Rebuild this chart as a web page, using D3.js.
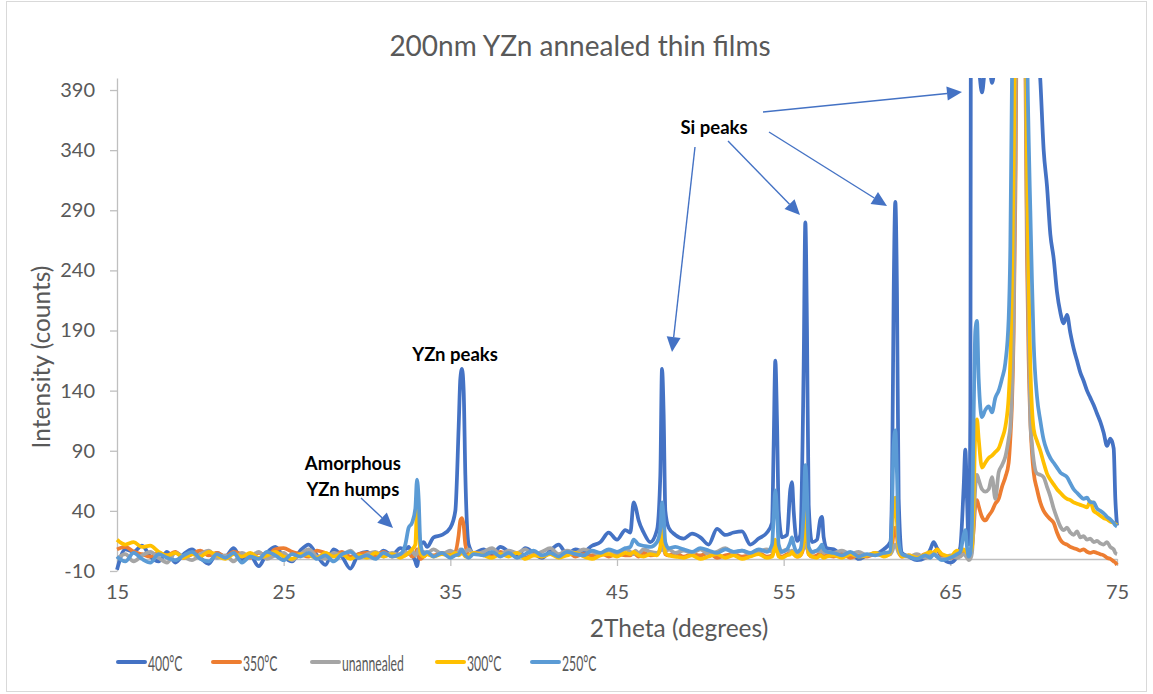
<!DOCTYPE html>
<html>
<head>
<meta charset="utf-8">
<script src="https://d3js.org/d3.v7.min.js"></script>
<style>
  body { margin: 0; background: #fff; }
  text { font-family: Lato, "Open Sans", sans-serif; }
</style>
</head>
<body>
<svg id="chart" width="1153" height="694"></svg>
<script>
// 2theta grid (denser around the peaks)
const twoTheta = [
  15, 15.5, 16, 16.5, 17, 17.5, 18, 18.5, 19, 19.5, 20, 20.5, 21, 21.5, 22, 22.5, 23, 23.5, 24, 24.5, 25, 25.5, 26, 26.5, 27, 27.5, 28, 28.5, 29, 29.5, 30, 30.5, 31, 31.5, 32,
  32.3, 32.5, 32.7, 32.9, 33.0, 33.1, 33.2, 33.4, 33.6,
  34.0, 34.5, 35.0, 35.3, 35.5, 35.6, 35.7, 35.8, 35.9, 36.1, 36.4,
  37, 37.5, 38, 38.5, 39, 39.5, 40, 40.5, 41, 41.5, 42, 42.5, 43, 43.5, 44, 44.5, 45, 45.5,
  45.8, 46.0, 46.1, 46.3, 46.6, 47.0, 47.4, 47.6, 47.7, 47.8, 47.9, 48.1, 48.5,
  49, 49.5, 50, 50.5, 51, 51.5, 52, 52.5, 53, 53.5, 54,
  54.3, 54.4, 54.5, 54.6, 54.7, 54.9, 55.2, 55.4, 55.5, 55.6, 55.8, 56.0, 56.2, 56.3, 56.4, 56.5, 56.7, 57.0, 57.2, 57.3, 57.4, 57.6,
  58, 58.5, 59, 59.5, 60, 60.5, 61,
  61.4, 61.5, 61.6, 61.7, 61.8, 61.9, 62.1,
  62.5, 63.0, 63.5, 63.8, 64.0, 64.2, 64.5, 65.0, 65.4,
  65.6, 65.8, 65.9, 66.0, 66.1, 66.2, 66.3, 66.4, 66.5, 66.6, 66.7, 66.9,
  67.1, 67.3, 67.5, 67.7, 67.9, 68.1, 68.3, 68.5, 68.6, 68.7, 68.8, 68.9, 69.0, 69.2, 69.4, 69.5, 69.6, 69.7, 69.8, 69.9, 70.0,
  70.2, 70.4, 70.6, 70.8, 71.0, 71.2, 71.4, 71.6, 71.8, 72.0, 72.2, 72.4, 72.6, 72.8, 73.0, 73.2, 73.4, 73.6, 73.8, 74.0, 74.2, 74.4, 74.6, 74.8, 74.9, 75.0
];

const counts400 = [
  -9, 8, 6, 11, 2, -2, 6, -3, 4, 8, 1, -4, 5, 2, 9, -1, 3, -6, 5, 10, 2, -2, 7, 12, 3, -5, 8, 2, -8, 4, 6, 1, 7, 3, 9,
  8, 10, 4, -2, -6, 2, 12, 14, 10,
  18, 20, 26, 40, 110, 150, 158, 140, 70, 12, 5,
  8, 3, 10, 6, 2, 9, 5, 1, 7, 12, 4, 8, 6, 11, 14, 22, 16, 24,
  22, 47, 44, 32, 22, 14, 24, 70, 158, 120, 40, 26, 20,
  17, 21, 18, 12, 25, 20, 22, 23, 12, 17, 22,
  30, 95, 165, 115, 40, 18, 20, 58, 64, 40, 15, 20, 160, 280, 190, 45, 14, 16, 33, 35, 18, 9,
  8, 4, 5, 0, 3, 4, 8,
  14, 60, 220, 297, 220, 50, 5,
  2, -1, 1, 8, 14, 9, 1, -3, 2,
  10, 60, 91, 50, 12, 120, 1500, 700, 440, 420, 410, 388,
  410, 415, 396, 412, 420, 430, 440, 460, 500, 600, 800, 1200, 2000, 3000, 2000, 1400, 1000, 800, 650, 550, 480,
  440, 398, 340, 310, 270, 250, 222, 205, 196, 203, 188, 175, 165, 155, 148, 140, 134, 128, 121, 114, 105, 94, 100, 92, 50, 28
];

const counts350 = [
  8, 10, 6, 4, 2, 5, 3, 6, 1, 4, 7, 3, 5, 2, 6, 4, 1, 5, 3, 8, 9, 6, 4, 2, 7, 5, 3, 6, 2, 4, 5, 3, 6, 2, 4,
  3, 5, 2, 4, 8, 3, 0, 2, 4,
  3, 5, 4, 6, 20, 32, 34, 28, 12, 3, 5,
  4, 2, 6, 3, 5, 1, 4, 2, 5, 3, 6, 2, 4, 3, 5, 2, 4, 3,
  3, 5, 4, 2, 5, 3, 4, 8, 14, 10, 4, 3, 5,
  2, 4, 3, 5, 1, 3, 4, 2, 3, 5, 2,
  3, 6, 12, 8, 3, 2, 4, 5, 6, 4, 2, 3, 10, 18, 12, 4, 2, 3, 5, 4, 2, 3,
  2, 4, 1, 3, 2, 4, 3,
  4, 10, 22, 26, 18, 6, 2,
  3, 1, 4, 2, 5, 8, 3, 1, 2,
  3, 5, 6, 4, 3, 5, 10, 25, 45, 49, 44, 35,
  32, 36, 40, 46, 50, 60, 68, 80, 100, 130, 190, 300, 500, 2000, 800, 420, 250, 165, 115, 88, 72,
  58, 47, 40, 36, 33, 30, 22, 16, 13, 12, 10, 9, 8, 7, 8, 6, 5, 6, 5, 4, 3, 1, 0, -2, -3, -5
];

const countsUnannealed = [
  0, 4, -2, 3, 6, 1, -3, 5, 2, -1, 4, 7, 1, 3, -2, 5, 2, 6, 0, 3, 5, -1, 4, 8, 2, 0, 5, 3, 7, 1, 4, 6, 2, 5, 3,
  6, 4, 7, 3, 5, 8, 4, 6, 5,
  8, 4, 7, 5, 6, 8, 7, 5, 6, 8, 4,
  6, 9, 4, 7, 5, 8, 3, 6, 9, 4, 7, 5, 8, 6, 4, 7, 5, 8,
  6, 4, 7, 5, 8, 6, 5, 7, 9, 7, 6, 8, 5,
  7, 5, 8, 4, 6, 9, 5, 7, 4, 6, 8,
  6, 7, 9, 7, 5, 6, 8, 6, 7, 6, 5, 7, 9, 12, 9, 6, 5, 7, 6, 8, 5, 6,
  5, 7, 4, 6, 3, 5, 4,
  4, 6, 10, 12, 9, 5, 3,
  2, 4, 1, 3, 5, 2, 0, 3, 1,
  2, 4, 3, 1, -1, 0, 5, 30, 60, 70, 66, 58,
  56, 58, 68, 50, 72, 78, 85, 100, 110, 140, 200, 330, 600, 2000, 900, 450, 280, 190, 115, 95, 82,
  71, 70, 68, 60, 52, 42, 34, 27, 24, 26, 22, 20, 23, 18, 19, 16, 17, 14, 15, 13, 12, 14, 10, 8, 5, 4
];

const counts300 = [
  16, 12, 14, 10, 11, 6, 3, 5, 1, 4, 2, 6, 3, 0, 4, 2, 5, 1, 3, 6, 2, 0, 4, 3, 1, 5, 2, 4, 0, 3, 1, 5, 2, 4, 1,
  3, 5, 8, 12, 40, 30, 5, 2, 4,
  2, 4, 3, 5, 3, 4, 6, 4, 2, 3, 5,
  3, 1, 4, 2, 5, 0, 3, 2, 4, 1, 3, 5, 2, 0, 3, 4, 2, 5,
  4, 6, 5, 3, 2, 4, 3, 10, 30, 18, 5, 3, 2,
  1, 3, 0, 2, 4, 1, 3, 0, 2, 4, 1,
  2, 6, 16, 8, 2, 1, 3, 4, 6, 4, 2, 3, 15, 43, 20, 4, 2, 1, 3, 2, 1, 2,
  3, 1, 4, 2, 3, 5, 2,
  5, 20, 45, 51, 30, 8, 2,
  3, 1, 4, 6, 5, 8, 4, 2, 7,
  6, 8, 7, 5, 4, 6, 10, 50, 105, 116, 100, 76,
  80, 84, 86, 89, 92, 100, 110, 135, 165, 230, 330, 480, 900, 2000, 1000, 520, 330, 230, 160, 125, 108,
  98, 90, 80, 71, 66, 62, 58, 55, 52, 50, 49, 47, 46, 45, 44, 43, 48, 40, 38, 36, 34, 33, 31, 30, 29, 28
];

const counts250 = [
  2, -2, 5, 0, -3, 4, 1, -1, 3, 6, 0, -2, 4, 1, 5, -3, 2, 0, 6, 3, -1, 4, 2, 5, 0, 3, -2, 4, 6, 1, 3, 0, 5, 2, 4,
  12, 26, 30, 42, 66, 50, 14, 4, 6,
  2, 5, 1, 3, 4, 6, 8, 5, 3, 1, 4,
  3, 6, 2, 5, 1, 4, 7, 3, 5, 2, 6, 4, 3, 7, 5, 8, 6, 9,
  10, 16, 15, 12, 11, 10, 14, 25, 47, 35, 14, 9, 10,
  8, 6, 9, 7, 5, 8, 6, 7, 5, 8, 6,
  12, 35, 57, 40, 12, 6, 8, 14, 18, 12, 6, 8, 40, 78, 55, 10, 6, 7, 10, 12, 8, 6,
  5, 3, 6, 2, 4, 3, 5,
  6, 40, 95, 107, 70, 15, 4,
  2, 0, 3, 1, 4, 2, -1, 1, 4,
  6, 20, 24, 10, 2, 5, 30, 120, 190, 198, 150, 118,
  124, 127, 122, 134, 140, 150, 163, 200, 260, 400, 600, 900, 1400, 2500, 1500, 800, 450, 350, 290, 230, 180,
  135, 115, 99, 90, 84, 80, 76, 72, 70, 68, 63, 58, 55, 52, 50, 51, 47, 47, 42, 40, 38, 35, 33, 30, 28, 27
];

const seriesNames = ['400°C', '350°C', 'unannealed', '300°C', '250°C'];
const seriesValues = [counts400, counts350, countsUnannealed, counts300, counts250];
const seriesColors = ['#4472C4', '#ED7D31', '#A5A5A5', '#FFC000', '#5B9BD5'];

const xTicks = [15, 25, 35, 45, 55, 65, 75];
const yTicks = [-10, 40, 90, 140, 190, 240, 290, 340, 390];

// annotation text (data coords) and arrows [x0, y0, x1, y1]
const noteLabels = [
  { text: 'Si peaks', x: 50.82, y: 359 },
  { text: 'YZn peaks', x: 35.28, y: 170.5 },
  { text: 'Amorphous', x: 29.15, y: 79.8 },
  { text: 'YZn humps', x: 29.15, y: 58.2 }
];
const noteArrows = [
  [49.68, 342.6, 48.3, 172.1],
  [51.66, 347.6, 55.98, 286.1],
  [54.12, 355.1, 61.2, 293.6],
  [53.76, 371.7, 65.7, 388.4],
  [29.64, 50.7, 31.56, 25.8]
];

seriesValues.forEach((v, i) => {
  if (v.length !== twoTheta.length) console.warn(seriesNames[i], v.length, twoTheta.length);
});

const svg = d3.select('#chart');
const axisGrey = '#BFBFBF';
const textGrey = '#595959';

// outer chart border
svg.append('rect')
  .attr('x', 6.5).attr('y', 1.5)
  .attr('width', 1140).attr('height', 690)
  .attr('fill', '#fff').attr('stroke', '#D9D9D9');

const x = d3.scaleLinear().domain([15, 75]).range([117, 1117]);
const y = d3.scaleLinear().domain([-10, 400]).range([571, 78]);

svg.append('text')
  .attr('x', 580).attr('y', 45)
  .attr('text-anchor', 'middle').attr('dominant-baseline', 'central')
  .attr('fill', textGrey).style('font-size', '28px')
  .text('200nm YZn annealed thin films');

// y axis
const yAxis = svg.append('g')
  .attr('transform', `translate(${x(15)},0)`)
  .call(d3.axisLeft(y).tickValues(yTicks).tickFormat(d => String(d))
    .tickSize(7).tickSizeOuter(0).tickPadding(15));
yAxis.select('.domain').attr('stroke', axisGrey).attr('stroke-width', 1.3);
yAxis.selectAll('.tick line').attr('stroke', axisGrey).attr('stroke-width', 1.3);
yAxis.selectAll('.tick text').attr('fill', textGrey).style('font-size', '20px').style('font-family', 'Lato');

// x axis sits at zero
const xAxis = svg.append('g')
  .attr('transform', `translate(0,${y(0)})`)
  .call(d3.axisBottom(x).tickValues(xTicks).tickSize(7).tickSizeOuter(0).tickPadding(19));
xAxis.select('.domain').attr('stroke', axisGrey).attr('stroke-width', 1.3);
xAxis.selectAll('.tick line').attr('stroke', axisGrey).attr('stroke-width', 1.3);
xAxis.selectAll('.tick text').attr('fill', textGrey).style('font-size', '20px').style('font-family', 'Lato');

svg.append('text')
  .attr('transform', 'translate(40,357) rotate(-90)')
  .attr('text-anchor', 'middle').attr('dominant-baseline', 'central')
  .attr('fill', textGrey).style('font-size', '24.5px')
  .text('Intensity (counts)');

svg.append('text')
  .attr('x', 679).attr('y', 627)
  .attr('text-anchor', 'middle').attr('dominant-baseline', 'central')
  .attr('fill', textGrey).style('font-size', '24.5px')
  .text('2Theta (degrees)');

// series
svg.append('clipPath').attr('id', 'plotClip')
  .append('rect').attr('x', 100).attr('y', y(400)).attr('width', 1040).attr('height', 520);

const line = d3.line()
  .x(d => x(d[0]))
  .y(d => y(d[1]))
  .curve(d3.curveMonotoneX);

const plot = svg.append('g').attr('clip-path', 'url(#plotClip)');
seriesValues.forEach((vals, i) => {
  plot.append('path')
    .datum(twoTheta.map((t, j) => [t, vals[j]]))
    .attr('fill', 'none')
    .attr('stroke', seriesColors[i])
    .attr('stroke-width', 3.75)
    .attr('stroke-linejoin', 'round')
    .attr('d', line);
});

// annotations
const arrowColor = '#4472C4';
noteArrows.forEach(([x0, y0, x1, y1]) => {
  const ax = x(x0), ay = y(y0), bx = x(x1), by = y(y1);
  const len = Math.hypot(bx - ax, by - ay);
  const ux = (bx - ax) / len, uy = (by - ay) / len;
  const headLen = 15, headW = 7;
  const cx = bx - ux * headLen, cy = by - uy * headLen;
  svg.append('line')
    .attr('x1', ax).attr('y1', ay).attr('x2', cx).attr('y2', cy)
    .attr('stroke', arrowColor).attr('stroke-width', 1.4);
  svg.append('path')
    .attr('d', `M${bx},${by}L${cx - uy * headW},${cy + ux * headW}L${cx + uy * headW},${cy - ux * headW}Z`)
    .attr('fill', arrowColor);
});

svg.selectAll('.note')
  .data(noteLabels)
  .join('text')
  .attr('class', 'note')
  .attr('x', d => x(d.x)).attr('y', d => y(d.y))
  .attr('text-anchor', 'middle').attr('dominant-baseline', 'central')
  .attr('fill', '#000').style('font-size', '18.5px').style('font-weight', 'bold')
  .text(d => d.text);

// legend
const legendX = [118, 213, 312, 437, 532];
const legend = svg.append('g').attr('transform', 'translate(0,662)');
seriesNames.forEach((name, i) => {
  legend.append('line')
    .attr('x1', legendX[i]).attr('x2', legendX[i] + 27)
    .attr('stroke', seriesColors[i]).attr('stroke-width', 4).attr('stroke-linecap', 'round');
  const t = legend.append('text')
    .attr('x', legendX[i] + 30)
    .attr('dominant-baseline', 'central')
    .attr('fill', textGrey).style('font-size', '21px')
    .text(name);
  const w = t.node().getComputedTextLength();
  t.attr('textLength', w * 0.58).attr('lengthAdjust', 'spacingAndGlyphs');
});
</script>
</body>
</html>
